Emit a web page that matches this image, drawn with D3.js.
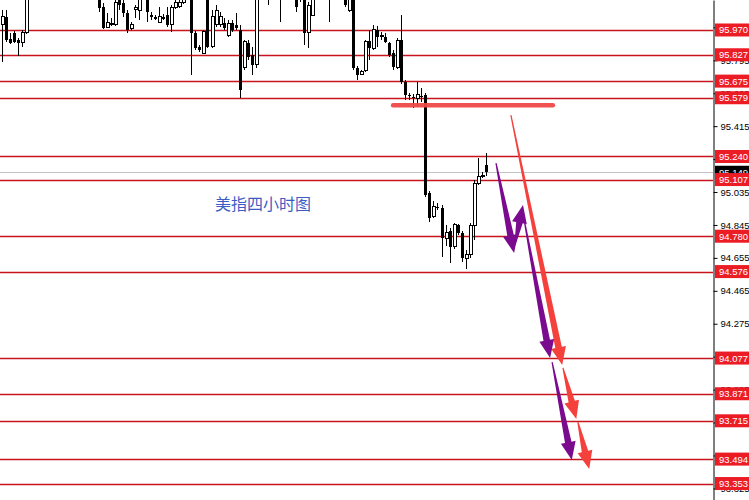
<!DOCTYPE html>
<html><head><meta charset="utf-8">
<script src="https://cdn.jsdelivr.net/npm/d3@7"></script>
<style>body{margin:0;background:#fff}svg{display:block}</style>
</head><body>
<svg id="chart" width="749" height="500"></svg>
<script>
// ---- data (4-hour USD index candles) ----
const opens = [95.999,96.045,95.918,95.953,95.912,95.895,95.953,
96.201,96.290,96.270,96.230,96.280,96.380,96.320,96.260,96.310,96.290,96.250,96.280,96.300,96.240,96.270,96.230,96.260,
96.212,96.103,95.987,95.999,95.999,96.172,96.126,96.068,95.976,96.091,96.085,96.230,96.155,96.056,96.045,96.016,96.045,96.056,95.999,96.097,96.103,96.126,96.172,
96.201,95.953,95.872,95.837,96.172,95.872,95.999,95.999,96.010,95.941,96.010,95.999,95.970,95.751,95.895,95.826,95.768,
96.172,96.250,96.220,96.201,96.260,96.230,96.172,96.230,96.210,96.201,96.160,96.172,95.953,96.056,96.172,96.240,96.220,96.230,96.189,96.250,96.230,96.201,96.085,
96.172,95.751,95.716,95.739,95.906,95.866,95.970,95.930,95.930,95.895,95.837,95.756,95.912,95.670,95.595,95.583,95.572,95.589,
95.595,95.029,94.891,94.949,94.943,94.764,94.810,94.718,94.845,94.799,94.649,94.672,94.839,95.087,95.122,95.191];
const highs = [96.085,96.085,95.953,95.964,95.924,95.970,96.258,
96.330,96.360,96.310,96.300,96.400,96.420,96.350,96.330,96.360,96.320,96.300,96.340,96.330,96.290,96.310,96.280,96.300,
96.258,96.126,96.068,96.039,96.155,96.201,96.143,96.085,96.016,96.114,96.172,96.258,96.172,96.074,96.056,96.103,96.062,96.103,96.114,96.143,96.155,96.201,96.260,
96.230,95.964,95.883,95.970,96.201,96.085,96.114,96.074,96.039,96.028,96.028,96.068,95.999,95.912,95.912,95.872,96.201,
96.280,96.320,96.316,96.290,96.330,96.287,96.250,96.300,96.260,96.230,96.240,96.201,96.131,96.201,96.260,96.300,96.280,96.258,96.270,96.310,96.280,96.230,96.201,
96.201,95.762,95.739,95.912,95.970,95.999,95.993,95.958,95.953,95.901,95.855,95.924,96.056,95.681,95.606,95.601,95.670,95.635,
95.606,95.041,94.983,94.972,94.960,94.845,94.827,94.856,94.851,94.810,94.701,94.856,95.104,95.231,95.150,95.260];
const lows = [95.785,95.901,95.889,95.895,95.820,95.872,95.947,
96.180,96.250,96.200,96.190,96.260,96.300,96.240,96.220,96.270,96.230,96.200,96.250,96.230,96.190,96.220,96.180,96.170,
96.074,95.976,95.981,95.993,95.993,96.085,96.045,95.953,95.970,96.039,96.028,96.143,96.016,96.028,96.028,96.010,96.028,95.987,95.958,96.091,96.097,96.120,96.160,
95.710,95.855,95.843,95.831,95.866,95.866,95.987,95.987,95.970,95.930,95.958,95.970,95.578,95.739,95.797,95.710,95.751,
96.150,96.200,96.114,96.170,96.210,96.016,96.150,96.190,96.160,96.074,96.131,95.883,95.866,96.051,96.150,96.200,96.180,96.016,96.160,96.210,96.180,96.103,96.074,
95.739,95.681,95.710,95.728,95.797,95.855,95.872,95.912,95.895,95.814,95.739,95.745,95.658,95.566,95.566,95.520,95.526,95.554,
95.006,94.862,94.885,94.931,94.660,94.724,94.626,94.706,94.787,94.631,94.591,94.654,94.758,95.076,95.116,95.127];
const closes = [96.045,95.912,95.895,95.901,95.895,95.953,96.201,
96.290,96.270,96.230,96.280,96.380,96.320,96.260,96.310,96.290,96.250,96.280,96.300,96.240,96.270,96.230,96.260,96.201,
96.097,95.981,96.016,96.010,96.131,96.114,96.068,95.970,95.999,96.097,96.155,96.155,96.074,96.045,96.033,96.045,96.033,95.999,96.097,96.126,96.131,96.172,96.230,
95.953,95.866,95.855,95.964,95.872,96.045,96.085,96.045,95.981,96.010,95.970,95.981,95.624,95.901,95.814,95.768,96.172,
96.250,96.220,96.201,96.260,96.240,96.172,96.230,96.210,96.200,96.103,96.200,95.953,96.114,96.172,96.240,96.220,96.200,96.189,96.250,96.230,96.201,96.114,96.172,
95.751,95.710,95.733,95.901,95.866,95.970,95.930,95.941,95.901,95.826,95.756,95.912,95.670,95.595,95.589,95.578,95.595,95.583,
95.018,94.885,94.954,94.943,94.770,94.804,94.718,94.845,94.799,94.654,94.672,94.839,95.087,95.127,95.133,95.149];

const levels = [95.970,95.827,95.675,95.579,95.240,95.107,94.780,94.576,94.077,93.871,93.715,93.494,93.353];
const tickValues = [93.325,93.515,93.705,93.895,94.085,94.275,94.465,94.655,94.845,95.035,95.225,95.415,95.605,95.795,95.985];
const lastPrice = 95.149;
const barFrom = 97, barTo = 136.6, barPrice = 95.535;
// arrows: [startBar, startPrice, tipBar, tipPrice]
const redArrows = [[126.2,95.479,138.9,94.037],[139.1,94.020,142.4,93.725],[142.8,93.708,145.6,93.437]];
const purpleArrows = [[122.5,95.202,127.0,94.683],[127.2,94.729,129.2,94.960],[129.4,94.885,135.9,94.077],[136.4,94.054,141.3,93.489]];
const title = "美指四小时图";

// ---- drawing ----
const W = 749, H = 500, axisX = 713;
const svg = d3.select("#chart");
const x = d3.scaleLinear().domain([0,120]).range([1.7,485.9]);
const y = d3.scaleLinear().domain([93.258,96.143]).range([H,0]);
const FONT = "Liberation Sans, Arial, sans-serif", FS = 9.5;

svg.append("rect").attr("width",W).attr("height",H).attr("fill","#fff");

svg.append("line").attr("x1",0).attr("x2",axisX).attr("y1",Math.round(y(lastPrice))+0.5).attr("y2",Math.round(y(lastPrice))+0.5)
  .attr("stroke","#c4c4c4").attr("stroke-width",1);

svg.append("g").selectAll("line").data(levels).join("line")
  .attr("x1",0).attr("x2",axisX)
  .attr("y1",d=>Math.round(y(d))+0.5).attr("y2",d=>Math.round(y(d))+0.5)
  .attr("stroke","#c8141e").attr("stroke-width",1.3);

const idx = d3.range(opens.length);
const cg = svg.append("g").attr("shape-rendering","crispEdges");
cg.selectAll("line").data(idx).join("line")
  .attr("x1",i=>Math.round(x(i))+0.5).attr("x2",i=>Math.round(x(i))+0.5)
  .attr("y1",i=>y(highs[i])).attr("y2",i=>y(lows[i]))
  .attr("stroke","#000").attr("stroke-width",1);
cg.selectAll("rect").data(idx).join("rect")
  .attr("x",i=>Math.round(x(i))-1)
  .attr("y",i=> y(Math.max(opens[i],closes[i])))
  .attr("width",3)
  .attr("height",i=> Math.max(1, Math.abs(y(opens[i])-y(closes[i]))))
  .attr("fill",i=> closes[i]>=opens[i] ? "#fff" : "#000")
  .attr("stroke","#000").attr("stroke-width",i=> closes[i]>=opens[i] ? 1 : 0);

const axis = d3.axisRight(y).tickValues(tickValues).tickSize(4).tickSizeOuter(0).tickPadding(3)
  .tickFormat(d3.format(".3f"));
const ag = svg.append("g").attr("transform",`translate(${axisX+0.5},0)`).call(axis);
ag.select(".domain").attr("stroke","#000");
ag.selectAll("text").attr("font-family",FONT).attr("font-size",FS).attr("fill","#000");

function priceBox(v, fill){
  const yy = y(v);
  svg.append("rect").attr("x",axisX+2).attr("y",yy-6.5).attr("width",W-axisX-2).attr("height",13).attr("fill",fill);
  svg.append("text").attr("x",axisX+6).attr("y",yy+3.5).attr("fill","#fff")
    .attr("font-family",FONT).attr("font-size",FS).text(v.toFixed(3));
}
priceBox(lastPrice, "#000");
levels.forEach(v=>priceBox(v, "#ec1c24"));

svg.append("line").attr("x1",x(barFrom)).attr("x2",x(barTo)).attr("y1",y(barPrice)).attr("y2",y(barPrice))
  .attr("stroke","#f04848").attr("stroke-width",4.5).attr("stroke-linecap","round").attr("opacity",0.95);

function arrowPath(a){
  const sx=x(a[0]), sy=y(a[1]), tx=x(a[2]), ty=y(a[3]);
  const dx=tx-sx, dy=ty-sy, len=Math.hypot(dx,dy);
  const ux=dx/len, uy=dy/len, nx=-uy, ny=ux;
  const hl=Math.min(18, len*0.45), hw=7.5, w0=0.6, w1=3.3;
  const bx=tx-ux*hl, by=ty-uy*hl;
  const p=[[sx+nx*w0,sy+ny*w0],[bx+nx*w1,by+ny*w1],[bx+nx*hw,by+ny*hw],[tx,ty],
           [bx-nx*hw,by-ny*hw],[bx-nx*w1,by-ny*w1],[sx-nx*w0,sy-ny*w0]];
  return "M"+p.map(q=>q[0].toFixed(1)+","+q[1].toFixed(1)).join("L")+"Z";
}
svg.append("g").selectAll("path").data(redArrows).join("path").attr("d",arrowPath).attr("fill","#f5413c");
svg.append("g").selectAll("path").data(purpleArrows).join("path").attr("d",arrowPath).attr("fill","#7a0a8e");

svg.append("text").attr("x",215).attr("y",210).attr("fill","#3c5cc4")
  .attr("font-family","Noto Sans CJK SC, sans-serif").attr("font-size",16).text(title);
</script>
</body></html>
